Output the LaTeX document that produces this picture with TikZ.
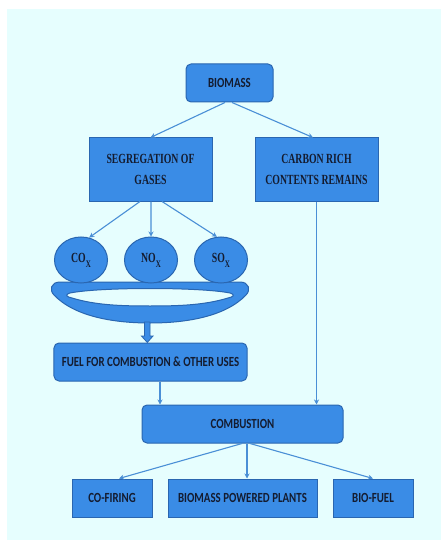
\documentclass[tikz,border=0pt]{standalone}
\usepackage{fontspec}
\setmainfont{Liberation Serif}
\newfontfamily\carl{Carlito}
\usepackage{graphicx}
\usetikzlibrary{arrows.meta,shapes.geometric}
\definecolor{bg}{HTML}{E6FEFE}
\definecolor{bx}{HTML}{3A8CE6}
\definecolor{bd}{HTML}{2A66B0}
\definecolor{ln}{HTML}{4A8FD6}
\definecolor{tx}{HTML}{141C30}
\newcommand\sq[1]{\scalebox{0.7}[1]{#1}}
\newcommand\sqs[1]{\scalebox{0.78}[1]{#1}}
\newcommand\gsub[1]{#1\raisebox{-0.35em}{\fontsize{10}{10}\selectfont X}}
\begin{document}
\begin{tikzpicture}[x=1bp,y=-1bp,
  box/.style={draw=bd, fill=bx, line width=1bp, inner sep=0pt, text=tx, align=center,
    font=\bfseries\fontsize{14}{21}\selectfont},
  sfbox/.style={box, font=\carl\bfseries\fontsize{14}{16}\selectfont},
  rbox/.style={sfbox, rounded corners=5bp},
  gas/.style={ellipse, draw=bd, fill=bx, line width=1bp, minimum width=53bp, minimum height=46bp,
    inner sep=0pt, text=tx, font=\bfseries\fontsize{14}{14}\selectfont},
  arr/.style={draw=ln, line width=1.1bp, -{Stealth[length=5bp,width=5bp]}}]
\fill[white] (0,0) rectangle (441,540);
\fill[bg] (7,9) rectangle (441,540);
\useasboundingbox (0,0) rectangle (441,540);

% band
\filldraw[fill=bx, draw=bd, line width=1bp, even odd rule]
  (60,282) -- (240,282) .. controls (249,282) and (251,290) .. (246,295)
  .. controls (225,317) and (185,323) .. (150,323)
  .. controls (115,323) and (75,317) .. (54,295)
  .. controls (49,290) and (51,282) .. (60,282) -- cycle
  (70,293) .. controls (100,287) and (200,287) .. (230,293)
  .. controls (236,295) and (233,297) .. (228,298)
  .. controls (205,305) and (180,306) .. (150,306)
  .. controls (120,306) and (95,305) .. (72,298)
  .. controls (67,297) and (64,295) .. (70,293) -- cycle;

% nodes
\node[rbox, minimum width=87bp, minimum height=38bp] (bio) at (229.5,83) {\sqs{BIOMASS}};
\node[box, minimum width=123bp, minimum height=63bp] (seg) at (150.5,169.5)
  {\sq{\begin{tabular}{@{}c@{}}SEGREGATION OF\\GASES\end{tabular}}};
\node[box, minimum width=123bp, minimum height=63bp] (car) at (316.5,169.5)
  {\sq{\begin{tabular}{@{}c@{}}CARBON RICH\\CONTENTS REMAINS\end{tabular}}};
\node[gas] (co) at (81,260) {\sq{\gsub{CO}}};
\node[gas] (no) at (151,260) {\sq{\gsub{NO}}};
\node[gas] (so) at (221,260) {\sq{\gsub{SO}}};
\node[rbox, minimum width=193bp, minimum height=38bp] (fuel) at (150.5,362)
  {\sqs{FUEL FOR COMBUSTION \& OTHER USES}};
\node[rbox, minimum width=201bp, minimum height=38bp] (comb) at (242.5,424) {\sqs{COMBUSTION}};
\node[sfbox, minimum width=80bp, minimum height=38bp] (cof) at (112,498) {\sqs{CO-FIRING}};
\node[sfbox, minimum width=149bp, minimum height=38bp] (bpp) at (242.5,498) {\sqs{BIOMASS POWERED PLANTS}};
\node[sfbox, minimum width=80bp, minimum height=38bp] (biof) at (373,498) {\sqs{BIO-FUEL}};

% block arrow from band to fuel
\filldraw[fill=bx, draw=bd, line width=0.8bp]
  (144.5,322) -- (150,322) -- (150,336) -- (153,336) -- (fuel.north -| 147.3,0)
  -- (141.5,336) -- (144.5,336) -- cycle;

% connectors
\draw[arr] ([xshift=-4.5bp]bio.south) -- (seg.north);
\draw[arr] ([xshift=2.5bp]bio.south) -- ([xshift=-3.5bp]car.north);
\draw[arr] ([xshift=-10.5bp]seg.south) -- (co.70);
\draw[arr] ([xshift=0.5bp]seg.south) -- (no.north);
\draw[arr] ([xshift=11.5bp]seg.south) -- (so.100);
\draw[arr] (car.south) -- (car.south |- comb.north);
\draw[arr] ([xshift=9.5bp]fuel.south) -- ([xshift=9.5bp]fuel.south |- comb.north);
\draw[arr] ([xshift=-0.5bp]comb.south) -- ([xshift=7bp]cof.north);
\draw[arr] ([xshift=4.5bp]comb.south) -- ([xshift=4.5bp]bpp.north);
\draw[arr] ([xshift=7.5bp]comb.south) -- (biof.north);
\end{tikzpicture}
\end{document}
